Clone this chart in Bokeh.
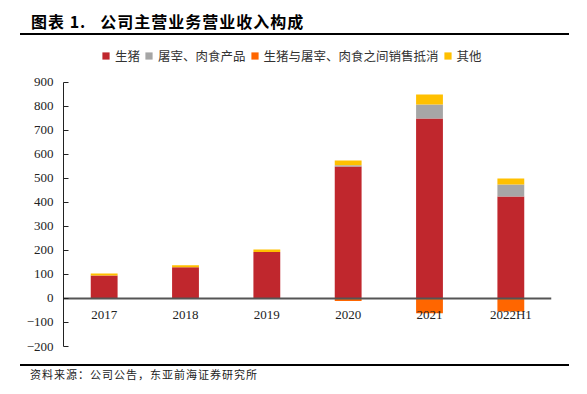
from bokeh.plotting import figure
from bokeh.models import (ColumnDataSource, FactorRange, Range1d, Legend, LegendItem,
                          Div, FixedTicker)
from bokeh.layouts import column
from bokeh.embed import file_html
from bokeh.resources import INLINE

# ---- data (亿元) ----
categories = ["2017", "2018", "2019", "2020", "2021", "2022H1"]
live_pigs = [96, 130, 194, 550, 750, 425]
slaughter_meat = [0, 0, 0, 5, 58, 50]
pig_meat_offset = [0, 0, 0, -10, -62, -54]
others = [8, 8, 10, 20, 42, 25]
y_ticks = [-200, -100, 0, 100, 200, 300, 400, 500, 600, 700, 800, 900]
legend_labels = ["生猪", "屠宰、肉食产品", "生猪与屠宰、肉食之间销售抵消", "其他"]
title_text = "图表 1.&nbsp;&nbsp;&nbsp;公司主营业务营业收入构成"
source_text = "资料来源：公司公告，东亚前海证券研究所"

colors = ["#C0272D", "#A6A6A6", "#FF6600", "#FFC000"]

s1 = [a + b for a, b in zip(live_pigs, slaughter_meat)]
s2 = [a + b for a, b in zip(s1, others)]
src = ColumnDataSource(dict(
    cat=categories,
    zero=[0] * len(categories),
    pig=live_pigs,
    s1=s1,
    s2=s2,
    neg=pig_meat_offset,
))

W = 569
# frame spans extra room above 900 so the legend can sit inside it
p = figure(x_range=FactorRange(*categories), y_range=Range1d(-200, 1083),
           width=W, height=327, output_backend="svg", toolbar_location=None,
           min_border_left=55, min_border_right=W - 543, min_border_top=3,
           min_border_bottom=16)
p.outline_line_color = None
p.xgrid.visible = False
p.ygrid.visible = False
p.background_fill_color = "white"
p.border_fill_color = "white"

bw = 0.33
r_pig = p.vbar(x="cat", bottom="zero", top="pig", width=bw, source=src,
               fill_color=colors[0], line_color=None)
r_sl = p.vbar(x="cat", bottom="pig", top="s1", width=bw, source=src,
              fill_color=colors[1], line_color=None)
r_oth = p.vbar(x="cat", bottom="s1", top="s2", width=bw, source=src,
               fill_color=colors[3], line_color=None)
r_neg = p.vbar(x="cat", bottom="neg", top="zero", width=bw, source=src,
               fill_color=colors[2], line_color=None)

# y axis
ya = p.yaxis[0]
ya.ticker = FixedTicker(ticks=y_ticks)
ya.bounds = (-200, 900)
ya.major_tick_in = 5
ya.major_tick_out = 0
ya.minor_tick_line_color = None
ya.axis_line_color = "#222222"
ya.major_tick_line_color = "#222222"
ya.major_label_standoff = 10
ya.major_label_text_font = "Liberation Serif"
ya.major_label_text_font_size = "13px"
ya.major_label_text_color = "#222222"

# x axis at zero
xa = p.xaxis[0]
xa.fixed_location = 0
xa.axis_line_color = "#555555"
xa.axis_line_width = 2
xa.major_tick_in = 0
xa.major_tick_out = 0
xa.minor_tick_line_color = None
xa.major_label_standoff = 9
xa.major_label_text_font = "Liberation Serif"
xa.major_label_text_font_size = "13px"
xa.major_label_text_color = "#222222"

legend = Legend(items=[
    LegendItem(label=legend_labels[0], renderers=[r_pig]),
    LegendItem(label=legend_labels[1], renderers=[r_sl]),
    LegendItem(label=legend_labels[2], renderers=[r_neg]),
    LegendItem(label=legend_labels[3], renderers=[r_oth]),
], orientation="horizontal", location=(38, 281))
legend.label_text_font = "Noto Sans CJK SC"
legend.label_text_font_size = "12.5px"
legend.label_text_color = "#333333"
legend.glyph_width = 9
legend.glyph_height = 9
legend.label_standoff = 5
legend.spacing = 4
legend.padding = 0
legend.margin = 0
legend.label_height = 14
legend.border_line_color = None
legend.background_fill_alpha = 0
p.add_layout(legend)

title_div = Div(text=(
    '<div style="width:549px;margin-left:12px;">'
    '<div style="height:25px;line-height:27px;padding-left:11px;'
    "font-family:'Noto Sans CJK SC';font-weight:bold;font-size:16px;letter-spacing:1px;"
    'color:#000;white-space:nowrap;overflow:visible;">' + title_text + '</div>'
    '<div style="height:2px;background:#000;"></div></div>'),
    width=W, height=27, margin=0)

foot_div = Div(text=(
    '<div style="width:549px;margin-left:12px;padding-top:2px;">'
    '<div style="height:2px;background:#000;"></div>'
    '<div style="line-height:16px;padding-left:10px;'
    "font-family:'Noto Sans CJK SC';font-size:11px;letter-spacing:1px;color:#222;"
    'white-space:nowrap;">' + source_text + '</div></div>'),
    width=W, height=21, margin=0)

layout = column(title_div, p, foot_div, margin=(8, 8, 8, 8), spacing=0)
open("out.html", "w").write(file_html(layout, INLINE))
